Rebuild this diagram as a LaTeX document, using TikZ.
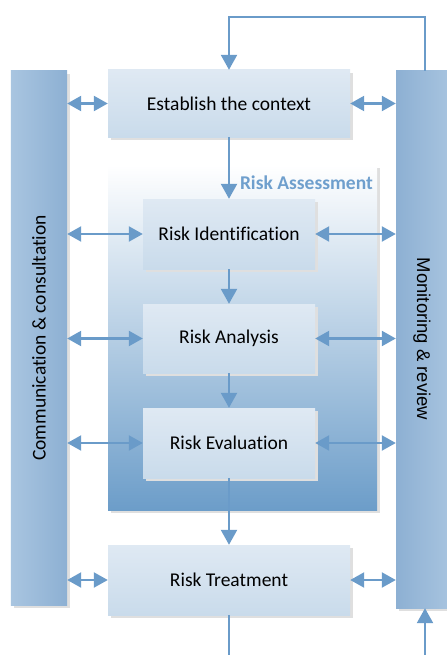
\documentclass[tikz,border=0pt]{standalone}
\usepackage{fontspec}
\setmainfont{Carlito}[Ligatures={NoCommon}]
\newfontfamily\arialfont{Liberation Sans}
\usetikzlibrary{arrows.meta,shadows}
\definecolor{arrowblue}{HTML}{6A9BC9}
\definecolor{boxtop}{HTML}{DFE9F3}
\definecolor{boxbot}{HTML}{C9DBEB}
\definecolor{barlight}{HTML}{A9C5E0}
\definecolor{bardark}{HTML}{8DB0D3}
\definecolor{rabot}{HTML}{6C9DC9}
\definecolor{ratext}{HTML}{6F9FCD}
\definecolor{shadowgray}{HTML}{DFDFDF}
\tikzset{
  shadowed/.style={general shadow={shadow xshift=3bp, shadow yshift=-3bp, fill=shadowgray}},
  stepbox/.style={shadowed, draw=none, top color=boxtop, bottom color=boxbot,
    inner sep=0pt, font=\fontsize{19.5bp}{22bp}\selectfont},
  conn/.style={draw=arrowblue, line width=2.3bp},
  arr/.style={conn, -{Triangle[length=15bp,width=16bp]}},
  dbl/.style={conn, {Triangle[length=14bp,width=15bp]}-{Triangle[length=14bp,width=15bp]}},
}
\begin{document}
\begin{tikzpicture}[x=1bp,y=-1bp]
\useasboundingbox (0,0) rectangle (447,655);
% side bars
\node[shadowed, draw=none, left color=barlight, right color=bardark, inner sep=0pt,
  minimum width=56bp, minimum height=534bp] (lbar) at (39,338) {};
\node[shadowed, draw=none, left color=bardark, right color=barlight, inner sep=0pt,
  minimum width=58bp, minimum height=537bp] (rbar) at (425,339.5) {};
\node[rotate=90, font=\fontsize{19.5bp}{22bp}\selectfont] (ltext) at (39,338) {Communication \& consultation};
\node[rotate=-90, font=\arialfont\fontsize{18.5bp}{22bp}\selectfont] (rtext) at (422,339) {Monitoring \& review};
% risk assessment region
\node[shadowed, draw=none, top color=white, bottom color=rabot, inner sep=0pt,
  minimum width=269bp, minimum height=345bp] (rareg) at (242.5,337.5) {};
\node[anchor=east, inner sep=0pt, text=ratext, font=\bfseries\fontsize{19.5bp}{22bp}\selectfont] (ratitle) at (373,183) {Risk Assessment};
% boxes
\node[stepbox, minimum width=242bp, minimum height=67bp] (ctx) at (229,103.5) {Establish the context};
\node[stepbox, minimum width=172bp, minimum height=70bp] (ri) at (229,234) {Risk Identification};
\node[stepbox, minimum width=172bp, minimum height=69bp] (ran) at (229,338.5) {Risk Analysis};
\node[stepbox, minimum width=172bp, minimum height=70bp] (re) at (229,443) {Risk Evaluation};
\node[stepbox, minimum width=242bp, minimum height=70bp] (rt) at (229,580) {Risk Treatment};
% vertical flow
\draw[arr] (ctx.south) -- (ri.north);
\draw[arr] (ri.south) -- (ran.north);
\draw[arr] (ran.south) -- (re.north);
\draw[arr] (re.south) -- (rt.north);
\coordinate (topc) at (229,17);
\draw[arr] (rbar.north) |- (topc) -- (ctx.north);
\coordinate (botl) at (229,656);
\coordinate (botr) at (425,656);
\draw[conn] (rt.south) -- (botl);
\draw[arr] (botr) -- (rbar.south);
% horizontal links
\foreach \b in {ctx,ri,ran,re,rt}{
  \draw[dbl] (lbar.east |- \b.west) -- (\b.west);
  \draw[dbl] (\b.east) -- (rbar.west |- \b.east);
}
\end{tikzpicture}
\end{document}
